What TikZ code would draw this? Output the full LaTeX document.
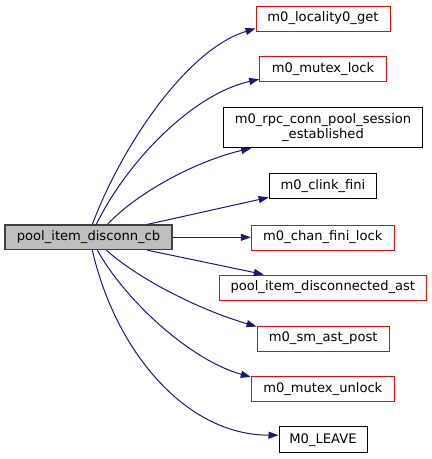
\documentclass[tikz,border=0pt]{standalone}
\usepackage{fontspec}
\setmainfont{DejaVu Sans}
\usetikzlibrary{arrows.meta}
\definecolor{edgeblue}{HTML}{191970}
\definecolor{mainfill}{HTML}{BFBFBF}
\definecolor{mainborder}{HTML}{404040}
\tikzset{
  fn/.style={draw, line width=1pt, inner sep=0pt, minimum height=25pt, align=center,
    font=\fontsize{13.1}{15}\selectfont, text=black},
  redfn/.style={fn, draw=red},
  blackfn/.style={fn, draw=black},
  mainfn/.style={fn, draw=mainborder, fill=mainfill, line width=1.3pt},
  call/.style={draw=edgeblue, line width=1pt, -{Triangle[length=10pt,width=7pt]}, edgeblue}
}
\begin{document}
\begin{tikzpicture}[x=1pt,y=-1pt]
\useasboundingbox (0,0) rectangle (432,459);
\node[mainfn, minimum width=167pt, minimum height=24.5pt] (main) at (88.5,237.3) {pool\_item\_disconn\_cb};
\node[redfn, minimum width=134pt] (loc) at (323,18.5) {m0\_locality0\_get};
\node[redfn, minimum width=126.6pt] (mlock) at (323,69.2) {m0\_mutex\_lock};
\node[blackfn, minimum width=198.6pt, minimum height=40pt] (rpc) at (323,127.7) {m0\_rpc\_conn\_pool\_session\\\_established};
\node[blackfn, minimum width=107.7pt] (clink) at (323,186.4) {m0\_clink\_fini};
\node[redfn, minimum width=143pt] (chan) at (322.8,237.5) {m0\_chan\_fini\_lock};
\node[redfn, minimum width=207pt] (past) at (322.8,287.5) {pool\_item\_disconnected\_ast};
\node[redfn, minimum width=132.3pt] (sm) at (323.2,338.5) {m0\_sm\_ast\_post};
\node[redfn, minimum width=143pt] (munlock) at (322.8,389) {m0\_mutex\_unlock};
\node[blackfn, minimum width=88pt, minimum height=26pt] (leave) at (323,439.7) {M0\_LEAVE};

\draw[call] ([xshift=88pt]main.north west) .. controls (120,150) and (185,50) .. ([yshift=3pt]loc.south west);
\draw[call] ([xshift=92pt]main.north west) .. controls (125,165) and (190,95) .. ([yshift=3pt]mlock.south west);
\draw[call] ([xshift=103pt]main.north west) .. controls (140,190) and (200,160) .. ([xshift=28pt]rpc.south west);
\draw[call] ([xshift=143pt]main.north west) -- ([yshift=2pt]clink.south west);
\draw[call] (main.east) -- (main.east -| chan.west);
\draw[call] ([xshift=143pt]main.south west) -- ([xshift=45pt]past.north west);
\draw[call] ([xshift=102pt]main.south west) .. controls (140,280) and (200,310) .. ([yshift=-1pt]sm.north west);
\draw[call] ([xshift=93pt]main.south west) .. controls (125,300) and (190,360) .. ([yshift=-1pt]munlock.north west);
\draw[call] ([xshift=88pt]main.south west) .. controls (115,350) and (185,435) .. ([yshift=-9pt]leave.north west);
\end{tikzpicture}
\end{document}
